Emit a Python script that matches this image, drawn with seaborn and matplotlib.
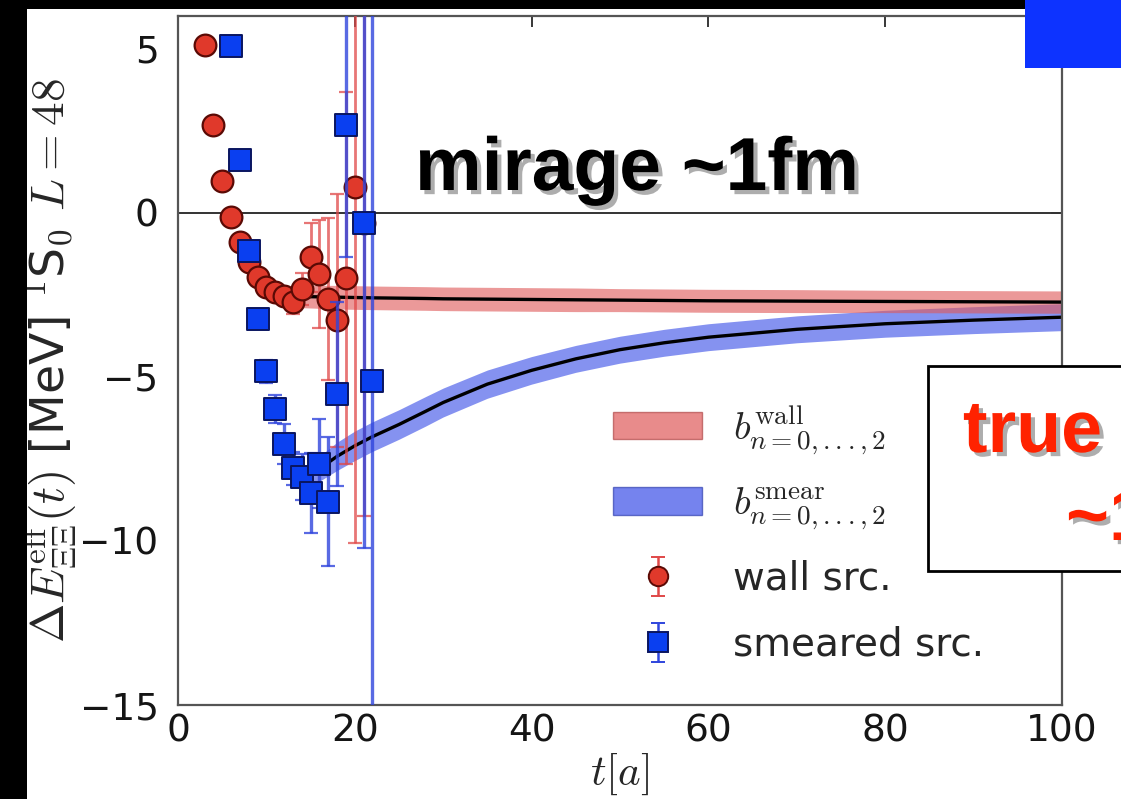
import numpy as np
import pandas as pd
import matplotlib
matplotlib.use("Agg")
import matplotlib.pyplot as plt
import matplotlib.patheffects as pe
from matplotlib.patches import Rectangle, Patch
import seaborn as sns

# ---------------- data ----------------
wall_t = [3, 4, 5, 6, 7, 8, 9, 10, 11, 12, 13, 14, 15, 16, 17, 18, 19, 20, 21]
wall_v = [5.12, 2.68, 0.96, -0.12, -0.90, -1.50, -1.96, -2.27, -2.42, -2.53,
          -2.71, -2.32, -1.36, -1.87, -2.62, -3.28, -1.99, 0.78, -0.30]
wall_err = [0.05, 0.05, 0.06, 0.08, 0.10, 0.12, 0.14, 0.16, 0.20, 0.25,
            0.36, 0.50, 1.06, 1.65, 2.47, 3.85, 5.67, 10.83, 8.95]

smear_t = [6, 7, 8, 9, 10, 11, 12, 13, 14, 15, 16, 17, 18, 19, 21, 22]
smear_v = [5.09, 1.62, -1.16, -3.25, -4.83, -5.98, -7.04, -7.79, -8.04,
           -8.54, -7.64, -8.80, -5.53, 2.68, -0.30, -5.13]
smear_err = [0.05, 0.07, 0.10, 0.15, 0.35, 0.43, 0.60, 0.50, 0.70, 1.22,
             1.35, 1.96, 2.80, 4.04, 9.90, 14.0]

fit_t = [14, 16, 18, 20, 22, 25, 28, 30, 35, 40, 45, 50, 55, 60, 70, 80, 90, 100]
fit_wall = [-2.55, -2.56, -2.57, -2.58, -2.59, -2.60, -2.61, -2.62, -2.63,
            -2.64, -2.65, -2.66, -2.67, -2.68, -2.69, -2.70, -2.71, -2.72]
fit_wall_err = [0.34, 0.35, 0.36, 0.36, 0.36, 0.36, 0.36, 0.36, 0.36,
                0.36, 0.36, 0.35, 0.35, 0.35, 0.35, 0.34, 0.34, 0.34]
fit_smear = [-8.15, -7.80, -7.42, -7.10, -6.82, -6.45, -6.05, -5.78, -5.22,
             -4.80, -4.45, -4.17, -3.96, -3.79, -3.55, -3.38, -3.27, -3.18]
fit_smear_err = [0.32, 0.38, 0.43, 0.45, 0.45, 0.45, 0.45, 0.44, 0.43,
                 0.42, 0.41, 0.41, 0.41, 0.41, 0.41, 0.41, 0.41, 0.41]

x_ticks = [0, 20, 40, 60, 80, 100]
y_ticks = [5, 0, -5, -10, -15]

legend_labels = [r"$b^{\mathrm{wall}}_{n=0,...,2}$",
                 r"$b^{\mathrm{smear}}_{n=0,...,2}$",
                 "wall src.", "smeared src."]

# ---------------- style ----------------
sns.set_style("white")
plt.rcParams["font.family"] = ["DejaVu Sans"]
plt.rcParams["mathtext.fontset"] = "cm"

wall_face, wall_edge = "#e0392b", "#5a0a05"
smear_face, smear_edge = "#0a3ff0", "#0a1560"
wall_bar, smear_bar = "#e04848", "#2f45dd"
wall_band, smear_band = "#df5a5a", "#3a4fe8"

df_wall = pd.DataFrame({"t": wall_t, "v": wall_v, "e": wall_err})
df_smear = pd.DataFrame({"t": smear_t, "v": smear_v, "e": smear_err})
df_fit = pd.DataFrame({"t": fit_t, "wall": fit_wall, "we": fit_wall_err,
                       "smear": fit_smear, "se": fit_smear_err})

fig = plt.figure(figsize=(11.21, 7.99), dpi=100)
fig.patch.set_facecolor("white")
ax = fig.add_axes([178 / 1121, 1 - 705 / 799, 884 / 1121, 689 / 799])

# fit bands
ax.fill_between(df_fit["t"], df_fit["smear"] - df_fit["se"], df_fit["smear"] + df_fit["se"],
                color=smear_band, alpha=0.62, lw=0, zorder=1)
ax.fill_between(df_fit["t"], df_fit["wall"] - df_fit["we"], df_fit["wall"] + df_fit["we"],
                color=wall_band, alpha=0.62, lw=0, zorder=1.2)
sns.lineplot(data=df_fit, x="t", y="smear", color="black", lw=2.4, ax=ax, zorder=2)
sns.lineplot(data=df_fit, x="t", y="wall", color="black", lw=2.4, ax=ax, zorder=2)

ax.axhline(0, color="#333333", lw=1.4, zorder=1.5)

# error bars
ax.errorbar(df_wall["t"], df_wall["v"], yerr=df_wall["e"], fmt="none",
            ecolor=wall_bar, elinewidth=2.0, capsize=5, capthick=1.6, alpha=0.75, zorder=3)
sns.scatterplot(data=df_wall, x="t", y="v", marker="o", s=245, color=wall_face,
                edgecolor=wall_edge, linewidth=1.6, ax=ax, zorder=4, legend=False)
ax.errorbar(df_smear["t"], df_smear["v"], yerr=df_smear["e"], fmt="none",
            ecolor=smear_bar, elinewidth=2.4, capsize=5, capthick=1.6, alpha=0.8, zorder=5)
sns.scatterplot(data=df_smear, x="t", y="v", marker="s", s=245, color=smear_face,
                edgecolor=smear_edge, linewidth=1.4, ax=ax, zorder=6, legend=False)

# axes formatting
ax.set_xlim(0, 100)
ax.set_ylim(-15, 6)
ax.set_xticks(x_ticks)
ax.set_yticks(y_ticks)
ax.set_yticklabels(["5", "0", "\u22125", "\u221210", "\u221215"])
ax.tick_params(direction="in", length=8, width=1.2, top=True, right=True,
               labelsize=27, colors="#151515")
ax.tick_params(axis="y", pad=14)
ax.tick_params(axis="x", pad=6)
for s in ax.spines.values():
    s.set_color("#555555")
    s.set_linewidth(1.6)
ax.set_xlabel(r"$t[a]$", fontsize=31, labelpad=2)
ax.set_ylabel(r"$\Delta E^{\rm eff}_{\Xi\Xi}(t)$ [MeV] $^1$S$_0$ $L=48$", fontsize=34, labelpad=0)

# legend
h_wall_band = Patch(facecolor=wall_band, alpha=0.7, edgecolor="#b04848", lw=1)
h_smear_band = Patch(facecolor=smear_band, alpha=0.7, edgecolor="#3040b0", lw=1)
h_wall = ax.errorbar([np.nan], [np.nan], yerr=[1], fmt="o", ms=14, mfc=wall_face,
                     mec=wall_edge, mew=1.4, ecolor=wall_bar, elinewidth=1.8, capsize=5)
h_smear = ax.errorbar([np.nan], [np.nan], yerr=[1], fmt="s", ms=14, mfc=smear_face,
                      mec=smear_edge, mew=1.4, ecolor=smear_bar, elinewidth=1.8, capsize=5)
leg = ax.legend([h_wall_band, h_smear_band, h_wall, h_smear], legend_labels,
                loc="upper left", bbox_to_anchor=(0.492, 0.438), frameon=False,
                fontsize=28, handlelength=2.3, handletextpad=0.8, labelspacing=0.72,
                borderpad=0, borderaxespad=0)

# ---------------- slide overlays ----------------
fig.patches.append(Rectangle((0, 0), 27 / 1121, 1, transform=fig.transFigure,
                             facecolor="black", edgecolor="none", zorder=20))
fig.patches.append(Rectangle((0, 1 - 9 / 799), 1, 9 / 799, transform=fig.transFigure,
                             facecolor="black", edgecolor="none", zorder=20))
fig.patches.append(Rectangle((1025 / 1121, 1 - 68 / 799), 96 / 1121, 68 / 799,
                             transform=fig.transFigure, facecolor="#0d33ff",
                             edgecolor="none", zorder=21))
fig.patches.append(Rectangle((928 / 1121, 1 - 571 / 799), 0.2, 205 / 799,
                             transform=fig.transFigure, facecolor="white",
                             edgecolor="black", lw=2, zorder=22))

shadow = [pe.withSimplePatchShadow(offset=(3, -3), shadow_rgbFace="#777777", alpha=0.6)]
fig.text(415 / 1121, 1 - 190 / 799, "mirage ~1fm", fontsize=54, fontweight="bold",
         family="Liberation Sans", color="black", ha="left", va="baseline",
         path_effects=shadow, zorder=25)
fig.text(963 / 1121, 1 - 452 / 799, "true", fontsize=53, fontweight="bold",
         family="Liberation Sans", color="#ff2200", ha="left", va="baseline",
         path_effects=shadow, zorder=25)
fig.text(1066 / 1121, 1 - 540 / 799, "~1", fontsize=53, fontweight="bold",
         family="Liberation Sans", color="#ff2200", ha="left", va="baseline",
         path_effects=shadow, zorder=25)

fig.savefig("out.png", dpi=100, facecolor="white")
